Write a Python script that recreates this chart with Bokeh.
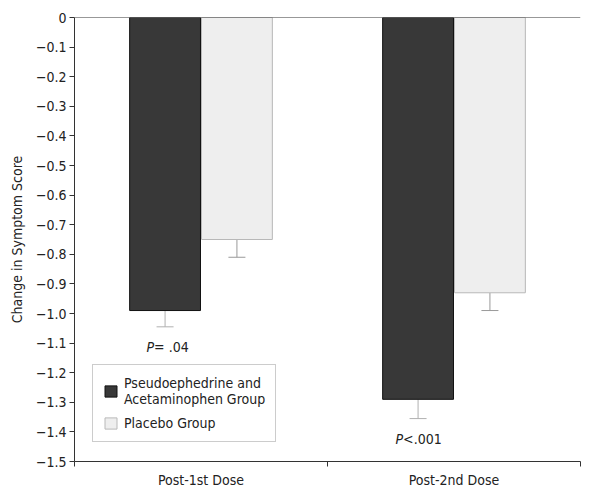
import numpy as np
from bokeh.plotting import figure
from bokeh.models import (ColumnDataSource, Range1d, FixedTicker, CustomJSTickFormatter,
                          Whisker, TeeHead, Span, Legend, LegendItem)
from bokeh.core.properties import value
from bokeh.embed import file_html
from bokeh.resources import INLINE

# ---- data ----
categories = ["Post-1st Dose", "Post-2nd Dose"]
combo_change = [-0.99, -1.29]
combo_err = [0.055, 0.065]
placebo_change = [-0.75, -0.93]
placebo_err = [0.06, 0.06]
p_prefix = ["P", "P"]
p_suffix = ["= .04", "<.001"]
y_ticks = [0, -0.1, -0.2, -0.3, -0.4, -0.5, -0.6, -0.7, -0.8, -0.9,
           -1.0, -1.1, -1.2, -1.3, -1.4, -1.5]

FONT = "DejaVu Sans Condensed"
FS = "14px"

centers = np.arange(len(categories)) + 0.5
shift = 0.142
bw = 0.28

combo = ColumnDataSource(dict(
    x=centers - shift, top=combo_change,
    low=np.array(combo_change) - np.array(combo_err),
))
placebo = ColumnDataSource(dict(
    x=centers + shift, top=placebo_change,
    low=np.array(placebo_change) - np.array(placebo_err),
))
ptext = ColumnDataSource(dict(
    x=centers - shift,
    y=np.array(combo_change) - np.array(combo_err) - 0.068,
    pre=p_prefix, suf=p_suffix, off=[-11, -15],
))

p = figure(width=582, height=490, output_backend="svg", toolbar_location=None,
           x_range=Range1d(0, len(categories)), y_range=Range1d(-1.5, 0),
           min_border=0, min_border_left=74, min_border_right=2,
           min_border_top=17, min_border_bottom=28)
p.outline_line_color = None
p.xgrid.visible = False
p.ygrid.visible = False
p.background_fill_color = "white"

r1 = p.vbar(x="x", top="top", bottom=0, width=bw, source=combo,
            fill_color="#383838", line_color="#111111", line_width=1)
r2 = p.vbar(x="x", top="top", bottom=0, width=bw, source=placebo,
            fill_color="#eeeeee", line_color="#b8b8b8", line_width=1)

for src, col in ((combo, "#b0b0b0"), (placebo, "#999999")):
    w = Whisker(base="x", upper="top", lower="low", source=src,
                line_color=col, line_width=1, upper_head=None,
                lower_head=TeeHead(size=17, line_color=col, line_width=1))
    p.add_layout(w)

p.add_layout(Span(location=0, dimension="width", line_color="#333333", line_width=1))

p.text(x="x", y="y", text="pre", source=ptext, x_offset="off",
       text_font=value(FONT), text_font_size=FS, text_font_style="italic",
       text_align="right", text_baseline="middle", text_color="#222222")
p.text(x="x", y="y", text="suf", source=ptext, x_offset="off",
       text_font=value(FONT), text_font_size=FS,
       text_align="left", text_baseline="middle", text_color="#222222")

# y axis
p.yaxis.ticker = FixedTicker(ticks=y_ticks)
p.yaxis.formatter = CustomJSTickFormatter(
    code="return tick == 0 ? '0' : '\\u2212' + Math.abs(tick).toFixed(1);")
p.yaxis.axis_label = "Change in Symptom Score"
p.yaxis.axis_label_text_font = FONT
p.yaxis.axis_label_text_font_size = FS
p.yaxis.axis_label_text_font_style = "normal"
p.yaxis.axis_label_text_color = "#222222"
p.yaxis.axis_label_standoff = 8
p.yaxis.major_label_text_font = FONT
p.yaxis.major_label_text_font_size = FS
p.yaxis.major_label_text_color = "#222222"
p.yaxis.major_tick_out = 5
p.yaxis.major_tick_in = 0
p.yaxis.minor_tick_line_color = None
p.yaxis.axis_line_color = "#333333"
p.yaxis.major_tick_line_color = "#333333"
p.yaxis.major_label_standoff = 3

# x axis
p.xaxis.ticker = FixedTicker(ticks=list(centers), minor_ticks=list(range(len(categories) + 1)))
p.xaxis.major_label_overrides = {float(c): lab for c, lab in zip(centers, categories)}
p.xaxis.major_label_text_font = FONT
p.xaxis.major_label_text_font_size = FS
p.xaxis.major_label_text_color = "#222222"
p.xaxis.major_tick_line_color = None
p.xaxis.major_tick_out = 0
p.xaxis.major_tick_in = 0
p.xaxis.minor_tick_out = 5
p.xaxis.minor_tick_in = 0
p.xaxis.minor_tick_line_color = "#333333"
p.xaxis.axis_line_color = "#333333"
p.xaxis.major_label_standoff = 5

legend = Legend(items=[
    LegendItem(label="Pseudoephedrine and\nAcetaminophen Group", renderers=[r1]),
    LegendItem(label="Placebo Group", renderers=[r2]),
], location=(18, 19))
legend.label_text_font = FONT
legend.label_text_font_size = FS
legend.label_text_color = "#222222"
legend.border_line_color = "#999999"
legend.border_line_width = 1
legend.glyph_width = 15
legend.glyph_height = 14
legend.padding = 10
legend.spacing = 8
legend.label_standoff = 6
legend.margin = 0
p.add_layout(legend)

open("out.html", "w").write(file_html(p, INLINE))
